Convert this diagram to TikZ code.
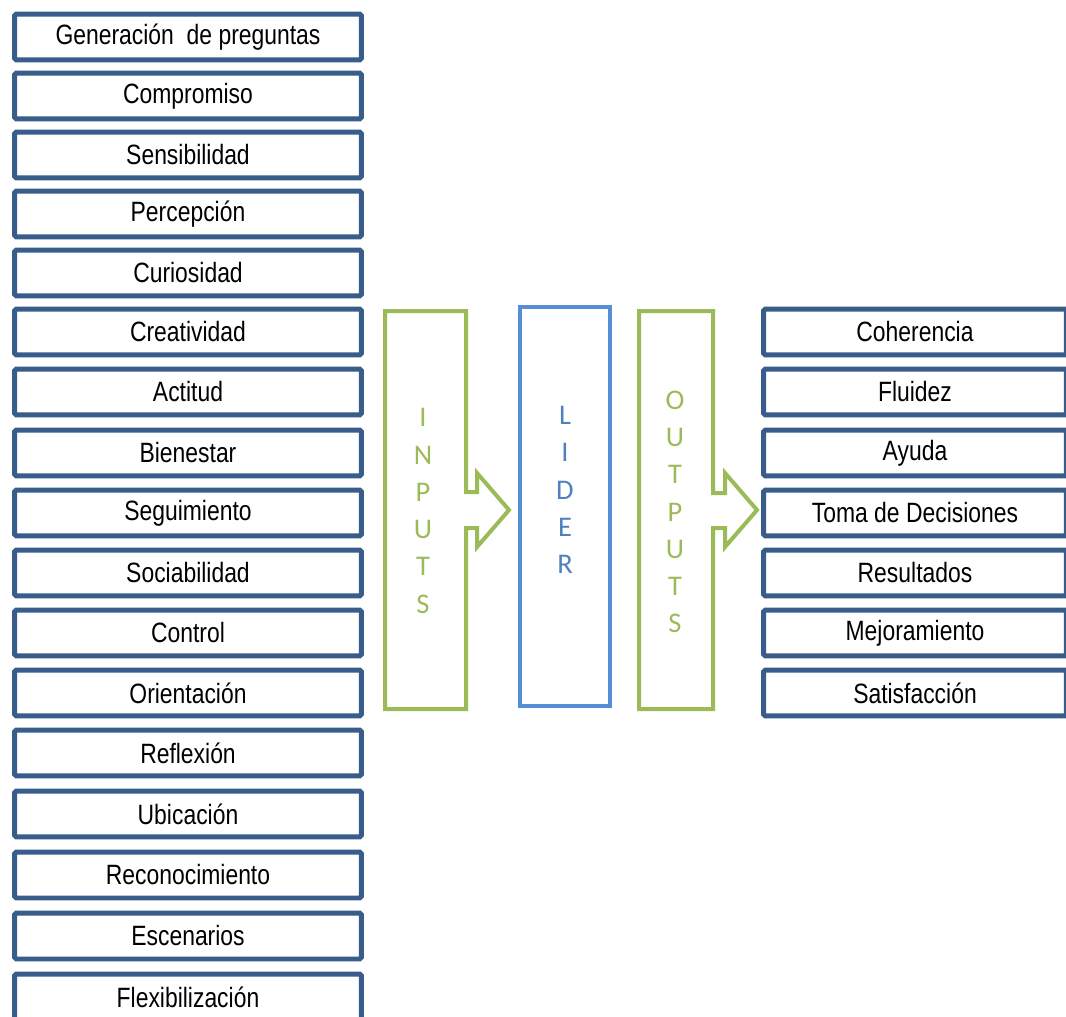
\documentclass[tikz,border=0pt]{standalone}
\usepackage{fontspec}
\setmainfont{Liberation Sans}[FakeStretch=0.82]
\newfontfamily\lettersfont{Carlito}
\definecolor{boxblue}{HTML}{385D8A}
\definecolor{leafgreen}{HTML}{9BBB59}
\definecolor{liderblue}{HTML}{558ED5}
\definecolor{letterblue}{HTML}{4F81BD}
\begin{document}
\begin{tikzpicture}[
    x=0.02cm, y=-0.02cm,
    item/.style={rectangle, draw=boxblue, line width=0.1cm, rounded corners=1pt, fill=white,
        minimum height=0.92cm, inner sep=0pt, font=\fontsize{15.9}{18}\selectfont},
    leftitem/.style={item, minimum width=6.94cm},
    rightitem/.style={item, minimum width=6.06cm},
    flow/.style={draw=leafgreen, line width=0.08cm, line join=miter},
    letters/.style={align=center, inner sep=0pt, font=\lettersfont\fontsize{16.2}{21.2}\selectfont}
]
    \useasboundingbox (0,0) rectangle (1066,1017);

    % Inputs column
    \node[leftitem] (gen) at (188,37) {Generación\ \ de preguntas};
    \node[leftitem] (comp) at (188,96) {Compromiso};
    \node[leftitem] (sens) at (188,155) {Sensibilidad};
    \node[leftitem] (perc) at (188,214) {Percepción};
    \node[leftitem] (curi) at (188,273) {Curiosidad};
    \node[leftitem] (crea) at (188,332) {Creatividad};
    \node[leftitem] (acti) at (188,392) {Actitud};
    \node[leftitem] (bien) at (188,453) {Bienestar};
    \node[leftitem] (segu) at (188,513) {Seguimiento};
    \node[leftitem] (soci) at (188,573) {Sociabilidad};
    \node[leftitem] (cont) at (188,633) {Control};
    \node[leftitem] (orie) at (188,693) {Orientación};
    \node[leftitem] (refl) at (188,753) {Reflexión};
    \node[leftitem] (ubic) at (188,814) {Ubicación};
    \node[leftitem] (reco) at (188,875) {Reconocimiento};
    \node[leftitem] (esce) at (188,936) {Escenarios};
    \node[leftitem] (flex) at (188,997) {Flexibilización};

    % Inputs arrow
    \draw[flow] (385,311) -- (466,311) -- (466,492) -- (477,492) -- (477,473) -- (509,510)
        -- (477,547) -- (477,528) -- (466,528) -- (466,709) -- (385,709) -- cycle;
    \node[letters, text=leafgreen] (inputs) at (423,511) {I\\N\\P\\U\\T\\S};

    % Leader
    \node[draw=liderblue, line width=0.08cm, minimum width=1.8cm, minimum height=7.98cm]
        (lider) at (565,506.5) {};
    \node[letters, text=letterblue] (liderword) at (565,490) {L\\I\\D\\E\\R};

    % Outputs arrow
    \draw[flow] (639,311) -- (713,311) -- (713,493) -- (725,493) -- (725,473) -- (757,510)
        -- (725,547) -- (725,528) -- (713,528) -- (713,709) -- (639,709) -- cycle;
    \node[letters, text=leafgreen] (outputs) at (675,512) {O\\U\\T\\P\\U\\T\\S};

    % Outputs column
    \node[rightitem] (cohe) at (915,332) {Coherencia};
    \node[rightitem] (flui) at (915,392) {Fluidez};
    \node[rightitem] (ayud) at (915,453) {Ayuda};
    \node[rightitem] (toma) at (915,513) {Toma de Decisiones};
    \node[rightitem] (resu) at (915,573) {Resultados};
    \node[rightitem] (mejo) at (915,633) {Mejoramiento};
    \node[rightitem] (sati) at (915,693) {Satisfacción};
\end{tikzpicture}
\end{document}
